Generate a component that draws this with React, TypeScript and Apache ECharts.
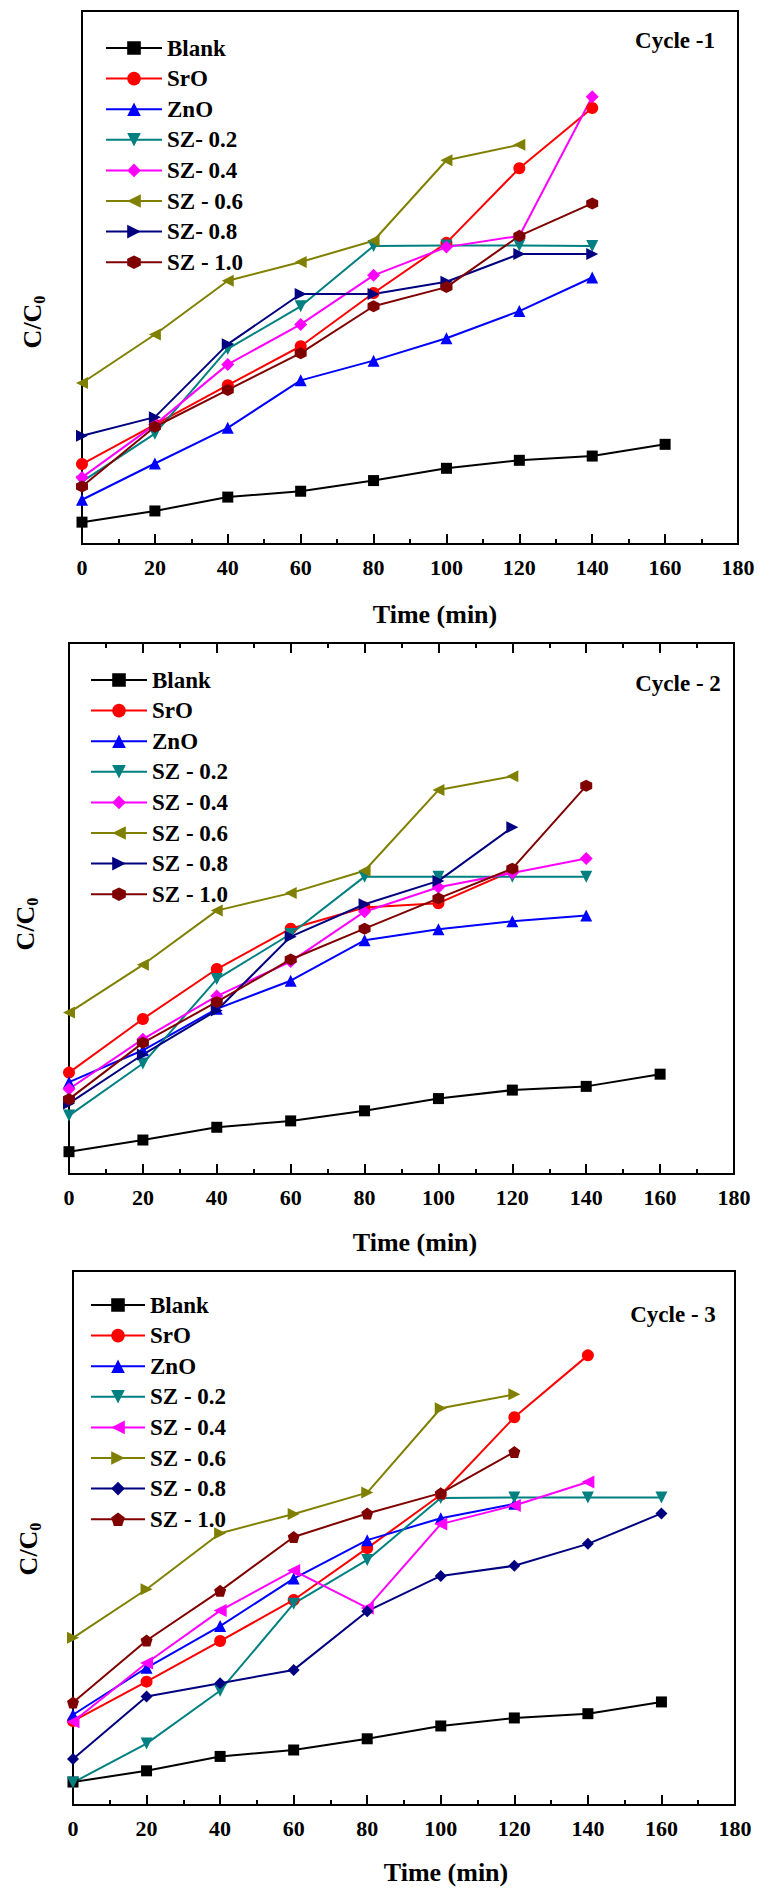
import React, { useEffect, useRef } from "react";
import * as echarts from "echarts";

// ---- data ----
const time = [0, 20, 40, 60, 80, 100, 120, 140, 160];

const names1 = ["Blank", "SrO", "ZnO", "SZ- 0.2", "SZ- 0.4", "SZ - 0.6", "SZ- 0.8", "SZ - 1.0"];
const names23 = ["Blank", "SrO", "ZnO", "SZ - 0.2", "SZ - 0.4", "SZ - 0.6", "SZ - 0.8", "SZ - 1.0"];
const cycleLabels = ["Cycle -1", "Cycle - 2", "Cycle - 3"];
const xTitle = "Time (min)";

// Cycle 1 (relative C/C0 positions, axis without labels)
const c1Blank = [0.041, 0.062, 0.088, 0.099, 0.119, 0.142, 0.157, 0.165, 0.187];
const c1SrO = [0.15, 0.224, 0.298, 0.371, 0.471, 0.565, 0.705, 0.818];
const c1ZnO = [0.083, 0.151, 0.218, 0.307, 0.344, 0.386, 0.437, 0.5];
const c1SZ02 = [0.117, 0.207, 0.366, 0.446, 0.559, 0.56, 0.56, 0.559];
const c1SZ04 = [0.125, 0.224, 0.337, 0.412, 0.504, 0.557, 0.578, 0.839];
const c1SZ06 = [0.302, 0.393, 0.494, 0.529, 0.569, 0.72, 0.749];
const c1SZ08 = [0.203, 0.238, 0.375, 0.469, 0.469, 0.492, 0.544, 0.544];
const c1SZ10 = [0.108, 0.22, 0.289, 0.358, 0.446, 0.482, 0.578, 0.639];

// Cycle 2
const c2Blank = [0.042, 0.064, 0.088, 0.1, 0.119, 0.142, 0.158, 0.165, 0.188];
const c2SrO = [0.191, 0.292, 0.386, 0.462, 0.502, 0.51, 0.571];
const c2ZnO = [0.173, 0.233, 0.311, 0.364, 0.44, 0.461, 0.476, 0.487];
const c2SZ02 = [0.11, 0.208, 0.367, 0.452, 0.56, 0.56, 0.56, 0.56];
const c2SZ04 = [0.16, 0.254, 0.335, 0.4, 0.494, 0.54, 0.567, 0.594];
const c2SZ06 = [0.304, 0.394, 0.496, 0.529, 0.571, 0.723, 0.749];
const c2SZ08 = [0.133, 0.225, 0.308, 0.447, 0.508, 0.552, 0.653];
const c2SZ10 = [0.141, 0.247, 0.324, 0.404, 0.462, 0.519, 0.575, 0.731];

// Cycle 3
const c3Blank = [0.043, 0.064, 0.091, 0.103, 0.124, 0.148, 0.163, 0.171, 0.193];
const c3SrO = [0.157, 0.231, 0.307, 0.384, 0.481, 0.581, 0.726, 0.842];
const c3ZnO = [0.169, 0.257, 0.335, 0.424, 0.496, 0.537, 0.564];
const c3SZ02 = [0.042, 0.115, 0.214, 0.377, 0.459, 0.575, 0.576, 0.576, 0.576];
const c3SZ04 = [0.156, 0.266, 0.364, 0.439, 0.369, 0.526, 0.561, 0.605];
const c3SZ06 = [0.313, 0.404, 0.509, 0.545, 0.585, 0.743, 0.769];
const c3SZ08 = [0.086, 0.203, 0.228, 0.253, 0.363, 0.429, 0.448, 0.489, 0.546];
const c3SZ10 = [0.192, 0.308, 0.401, 0.502, 0.546, 0.584, 0.661];

const colors = ["#000000", "#ff0000", "#0000ff", "#008080", "#ff00ff", "#808000", "#000080", "#800000"];

const TRI_UP = "triangle";
const TRI_DOWN = "path://M0,0 L10,0 L5,9 Z";
const TRI_LEFT = "path://M0,5 L9,0 L9,10 Z";
const TRI_RIGHT = "path://M0,0 L9,5 L0,10 Z";
const HEXAGON = "path://M5,0 L9.33,2.5 L9.33,7.5 L5,10 L0.67,7.5 L0.67,2.5 Z";
const PENTAGON = "path://M5,0 L10,3.8 L8.1,10 L1.9,10 L0,3.8 Z";

const symbols1 = ["rect", "circle", TRI_UP, TRI_DOWN, "diamond", TRI_LEFT, TRI_RIGHT, HEXAGON];
const symbols2 = ["rect", "circle", TRI_UP, TRI_DOWN, "diamond", TRI_LEFT, TRI_RIGHT, HEXAGON];
const symbols3 = ["rect", "circle", TRI_UP, TRI_DOWN, TRI_LEFT, TRI_RIGHT, "diamond", PENTAGON];
const sizes = [11, 12, 12, 12, 13, 12, 12, 12];

const panelData = [
  [c1Blank, c1SrO, c1ZnO, c1SZ02, c1SZ04, c1SZ06, c1SZ08, c1SZ10],
  [c2Blank, c2SrO, c2ZnO, c2SZ02, c2SZ04, c2SZ06, c2SZ08, c2SZ10],
  [c3Blank, c3SrO, c3ZnO, c3SZ02, c3SZ04, c3SZ06, c3SZ08, c3SZ10],
];
const panelNames = [names1, names23, names23];
const panelSymbols = [symbols1, symbols2, symbols3];

// ---- layout ----
const FONT = "Liberation Serif";
const grids = [
  { left: 82, top: 11, width: 656, height: 533 },
  { left: 69, top: 643, width: 665, height: 531 },
  { left: 73, top: 1271, width: 662, height: 534 },
];
const legends = [
  { left: 100, top: 31, itemWidth: 56 },
  { left: 85, top: 663, itemWidth: 56 },
  { left: 85, top: 1288, itemWidth: 54 },
];
const cyclePos = [
  [675, 40],
  [678, 683],
  [673, 1314],
];
const yTitlePos = [
  [32, 322],
  [25, 924],
  [28, 1549],
];
const xTitlePos = [
  [435, 614],
  [415, 1242],
  [446, 1872],
];

function buildOption() {
  const series: any[] = [];
  panelData.forEach((arrs, p) => {
    arrs.forEach((vals, k) => {
      series.push({
        type: "line",
        name: `${p}|${panelNames[p][k]}`,
        xAxisIndex: p,
        yAxisIndex: p,
        data: vals.map((v, i) => [time[i], v]),
        symbol: panelSymbols[p][k],
        symbolSize: sizes[k],
        itemStyle: { color: colors[k] },
        lineStyle: { color: colors[k], width: 2 },
        emphasis: { disabled: true },
      });
    });
  });

  const axisCommon = (grid: number, position: string, showLabel: boolean) => ({
    type: "value",
    gridIndex: grid,
    position,
    min: 0,
    max: 180,
    interval: 20,
    axisLine: { show: true, onZero: false, lineStyle: { color: "#000", width: 2 } },
    axisTick: { show: true, inside: true, length: 10, lineStyle: { color: "#000", width: 2 } },
    minorTick: { show: true, splitNumber: 2, length: 5, lineStyle: { color: "#000", width: 2 } },
    splitLine: { show: false },
    minorSplitLine: { show: false },
    axisLabel: {
      show: showLabel,
      margin: 12,
      color: "#000",
      fontFamily: FONT,
      fontWeight: "bold",
      fontSize: 22,
      showMinLabel: true,
      showMaxLabel: true,
    },
  });

  const xAxis = [
    axisCommon(0, "bottom", true),
    axisCommon(1, "bottom", true),
    axisCommon(2, "bottom", true),
    axisCommon(1, "top", false),
  ];
  const yAxis = [0, 1, 2].map((g) => ({
    type: "value",
    gridIndex: g,
    min: 0,
    max: 1,
    axisLine: { show: true, onZero: false, lineStyle: { color: "#000", width: 2 } },
    axisTick: { show: false },
    axisLabel: { show: false },
    splitLine: { show: false },
  }));

  const legend = legends.map((l, p) => ({
    orient: "vertical",
    left: l.left,
    top: l.top,
    itemWidth: l.itemWidth,
    itemHeight: 17,
    itemGap: 6.6,
    selectedMode: false,
    data: panelNames[p].map((n) => `${p}|${n}`),
    formatter: (n: string) => n.split("|")[1],
    textStyle: {
      color: "#000",
      fontFamily: FONT,
      fontWeight: "bold",
      fontSize: 23,
      lineHeight: 24,
    },
  }));

  const graphic: any[] = [];
  for (let p = 0; p < 3; p++) {
    graphic.push({
      type: "text",
      x: cyclePos[p][0],
      y: cyclePos[p][1],
      style: {
        text: cycleLabels[p],
        fill: "#000",
        fontFamily: FONT,
        fontWeight: "bold",
        fontSize: 23,
        align: "center",
        verticalAlign: "middle",
      },
    });
    graphic.push({
      type: "text",
      x: xTitlePos[p][0],
      y: xTitlePos[p][1],
      style: {
        text: xTitle,
        fill: "#000",
        fontFamily: FONT,
        fontWeight: "bold",
        fontSize: 26,
        align: "center",
        verticalAlign: "middle",
      },
    });
    graphic.push({
      type: "text",
      x: yTitlePos[p][0],
      y: yTitlePos[p][1],
      rotation: Math.PI / 2,
      style: {
        text: "{a|C/C}{b|0}",
        align: "center",
        verticalAlign: "middle",
        rich: {
          a: { fill: "#000", fontFamily: FONT, fontWeight: "bold", fontSize: 26, lineHeight: 30 },
          b: {
            fill: "#000",
            fontFamily: FONT,
            fontWeight: "bold",
            fontSize: 16,
            lineHeight: 30,
            verticalAlign: "bottom",
            padding: [10, 0, 0, 0],
          },
        },
      },
    });
  }

  return {
    animation: false,
    backgroundColor: "#ffffff",
    grid: grids.map((g) => ({
      ...g,
      show: true,
      borderColor: "#000",
      borderWidth: 2,
      backgroundColor: "transparent",
      containLabel: false,
    })),
    xAxis,
    yAxis,
    legend,
    series,
    graphic,
  };
}

export default function App() {
  const ref = useRef<HTMLDivElement>(null);
  useEffect(() => {
    if (!ref.current) return;
    const chart = echarts.init(ref.current, undefined, { renderer: "svg" });
    chart.setOption(buildOption() as any);
    return () => chart.dispose();
  }, []);
  return (
    <div
      ref={ref}
      style={{ position: "absolute", left: 0, top: 0, width: 762, height: 1890, background: "#fff" }}
    />
  );
}
